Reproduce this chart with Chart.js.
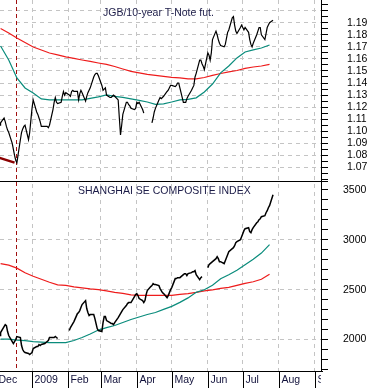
<!DOCTYPE html>
<html>
<head>
<meta charset="utf-8">
<script src="https://cdn.jsdelivr.net/npm/chart.js@4.4.1/dist/chart.umd.min.js"></script>
<style>
  html, body { margin: 0; padding: 0; background: #fff; }
  #wrap { width: 371px; height: 388px; position: relative; }
</style>
</head>
<body>
<div id="wrap"><canvas id="chart"></canvas></div>
<script>
// x values are days counted from Mon Dec 1, 2008
var firstDay = 3;    // Thu Dec 4, 2008
var lastDay = 238;   // Mon Jul 27, 2009
var monthStarts = [0, 31, 62, 90, 121, 151, 182, 212, 243, 274];
var monthLabels = ['Dec', '2009', 'Feb', 'Mar', 'Apr', 'May', 'Jun', 'Jul', 'Aug', 'Sep'];
var markerDay = 17;  // red dashed line, mid Dec

var jgbTitle = 'JGB/10-year T-Note fut.';
var shTitle = 'SHANGHAI SE COMPOSITE INDEX';
var jgbTickLabels = ['1.07', '1.08', '1.09', '1.10', '1.11', '1.12', '1.13', '1.14', '1.15', '1.16', '1.17', '1.18', '1.19'];
var shTickLabels = ['2000', '2500', '3000', '3500'];

// daily closes, one per weekday (null = no trade)
var jgbRatio = [
  1.105, 1.107,
  1.111, 1.108, 1.104, 1.101, 1.099,
  1.090, 1.085, 1.080, 1.076, 1.074,
  1.093, 1.099, 1.102, 1.104, 1.105,
  1.093, 1.099, 1.109, 1.119, 1.126,
  1.116, 1.114, 1.111, 1.108, 1.104,
  1.104, 1.104, 1.104, 1.103, 1.105,
  1.118, 1.124, 1.128, 1.124, 1.123,
  1.124, 1.129, 1.133, 1.130, 1.132,
  1.130, 1.129, 1.133, 1.134, 1.133,
  1.133, 1.126, 1.131, 1.134, 1.132,
  1.125, 1.129, 1.132, 1.134, 1.136,
  1.145, 1.147, 1.148, 1.148, 1.146,
  1.138, 1.134, 1.135, 1.136, 1.130,
  1.128, 1.128, 1.129, 1.130, 1.129,
  1.126, 1.111, 1.097, 1.105, 1.114,
  1.124, 1.124, 1.122, 1.121, 1.119,
  1.118, 1.119, 1.124, 1.123, 1.124,
  1.118, 1.115, null, 1.115, null,
  null, 1.107, 1.111, 1.116, 1.119,
  1.126, 1.128, 1.127, 1.128, 1.129,
  1.133, 1.134, 1.136, 1.138, 1.138,
  1.137, 1.138, 1.140, 1.140, 1.136,
  1.124, 1.124, 1.124, 1.127, 1.129,
  1.134, 1.136, 1.138, 1.145, 1.148,
  1.159, 1.159, 1.156, 1.154, 1.151,
  1.165, 1.163, 1.159, 1.165, 1.176,
  1.183, 1.180, 1.176, 1.173, 1.171,
  1.170, 1.172, 1.177, 1.182, 1.184,
  1.194, 1.195, 1.188, 1.183, 1.181,
  1.186, 1.188, 1.186, 1.184, 1.186,
  1.182, 1.176, 1.172, 1.170, 1.173,
  1.180, 1.183, 1.186, 1.186, 1.180,
  1.176, 1.181, 1.186, 1.188, 1.190,
  1.192
];

var shComposite = [
  2040, 2070,
  2130, 2150, 2140, 2080, 2040,
  1980, 1960, 1980, 2000, 2030,
  2020, 1940, 1900, 1880, 1870,
  1860, 1850, 1860, 1870, 1910,
  1930, 1930, 1950, 1940, 1950,
  1960, 1970, 1980, 1990, 2020,
  2020, 2020, 2030, 2020, 2010,
  null, null, null, null, null,
  2090, 2120, 2140, 2160, 2180,
  2260, 2270, 2290, 2320, 2350,
  2390, 2310, 2270, 2240, 2250,
  2250, 2210, 2160, 2110, 2090,
  2080, 2170, 2230, 2230, 2190,
  2170, 2160, 2160, 2150, 2170,
  2220, 2240, 2260, 2280, 2300,
  2340, 2360, 2370, 2370, 2370,
  2430, 2450, 2460, 2440, 2410,
  2390, 2370, 2390, 2450, 2490,
  2530, 2540, 2560, 2550, 2550,
  2540, 2510, 2490, 2470, 2460,
  2420, 2440, 2470, 2500, 2520,
  2610, 2610, 2620, 2620, 2620,
  2650, 2660, 2660, 2640, 2660,
  2670, 2680, 2680, 2690, 2650,
  2600, 2620, 2630, null, null,
  2720, 2750, 2760, 2770, 2780,
  2810, 2830, 2810, 2780, 2780,
  2760, 2790, 2820, 2850, 2880,
  2910, 2920, 2940, 2970, 2980,
  3000, 3030, 3060, 3090, 3110,
  3120, 3080, 3070, 3100, 3120,
  3170, 3180, 3200, 3210, 3230,
  3240, 3270, 3290, 3320, 3340,
  3450
];

// moving averages, read weekly (Fridays)
var maDays = [4, 11, 18, 25, 32, 39, 46, 53, 60, 67, 74, 81, 88, 95, 102, 109, 116,
  123, 130, 137, 144, 151, 158, 165, 172, 179, 186, 193, 200, 207, 214, 221, 228, 235];
var jgbMaShort = [1.1707, 1.1591, 1.1442, 1.1359, 1.1318, 1.1268, 1.1260, 1.1260, 1.1260,
  1.1260, 1.1260, 1.1272, 1.1285, 1.1301, 1.1289, 1.1281, 1.1268, 1.1256, 1.1243, 1.1223,
  1.1227, 1.1243, 1.1260, 1.1264, 1.1277, 1.1326, 1.1392, 1.1484, 1.1541, 1.1608, 1.1657,
  1.1674, 1.1690, 1.1715];
var jgbMaLong = [1.1852, 1.1815, 1.1773, 1.1736, 1.1699, 1.1674, 1.1649, 1.1633, 1.1616,
  1.1604, 1.1591, 1.1579, 1.1566, 1.1554, 1.1537, 1.1516, 1.1496, 1.1484, 1.1471, 1.1463,
  1.1455, 1.1446, 1.1442, 1.1434, 1.1434, 1.1446, 1.1463, 1.1479, 1.1492, 1.1504, 1.1521,
  1.1533, 1.1541, 1.1554];
var shMaShort = [2005, 2005, 1995, 1990, 1979, 1974, 1969, 1969, 1969, 1990, 2020, 2055,
  2095, 2120, 2141, 2171, 2201, 2226, 2251, 2271, 2302, 2332, 2372, 2417, 2473, 2498, 2543,
  2609, 2649, 2694, 2750, 2805, 2866, 2951];
var shMaLong = [2760, 2745, 2715, 2669, 2634, 2604, 2574, 2548, 2543, 2528, 2518, 2508,
  2500, 2488, 2473, 2463, 2448, 2443, 2443, 2443, 2443, 2443, 2453, 2460, 2473, 2488, 2498,
  2513, 2523, 2543, 2563, 2579, 2604, 2654];

// short dark red stub at the Dec low
var stubDays = [3, 16];
var stubVals = [1.078, 1.074];

// weekday list for the daily series
var tradeDays = [];
for (var d = firstDay; d <= lastDay; d++) {
  if (d % 7 < 5) tradeDays.push(d);
}

function pts(days, vals) {
  return vals.map(function (v, i) { return { x: days[i], y: v }; });
}

var FONT = 'Liberation Sans, Arial, sans-serif';
Chart.defaults.font.family = FONT;
Chart.defaults.font.size = 10.5;
Chart.defaults.color = '#000';

var GRID = '#c4c4c4';
var TEAL = '#0a8c7c';
var RED = '#ee1c1c';

function lineSet(data, axis, color, width) {
  return {
    data: data, yAxisID: axis, borderColor: color, borderWidth: width,
    pointRadius: 0, tension: 0, spanGaps: false, fill: false
  };
}

var decor = {
  id: 'decor',
  beforeDatasetsDraw: function (chart) {
    var ctx = chart.ctx, a = chart.chartArea;
    var x = chart.scales.x.getPixelForValue(markerDay);
    ctx.save();
    ctx.strokeStyle = '#a01010';
    ctx.lineWidth = 1;
    ctx.setLineDash([4, 3]);
    ctx.beginPath();
    ctx.moveTo(Math.round(x) + 0.5, a.top);
    ctx.lineTo(Math.round(x) + 0.5, a.bottom);
    ctx.stroke();
    ctx.restore();
  },
  afterDraw: function (chart) {
    var ctx = chart.ctx, a = chart.chartArea;
    var sx = chart.scales.x, top = chart.scales.yTop;
    ctx.save();
    // panel separator and bottom line
    ctx.strokeStyle = '#000';
    ctx.lineWidth = 1;
    var sep = Math.round(top.bottom) + 0.5;
    ctx.beginPath();
    ctx.moveTo(a.left, sep);
    ctx.lineTo(a.right + 7, sep);
    var bot = Math.round(a.bottom) + 0.5;
    ctx.moveTo(a.left, bot);
    ctx.lineTo(a.right + 2, bot);
    ctx.stroke();

    // panel titles
    ctx.fillStyle = '#1c1c48';
    ctx.font = '10.5px ' + FONT;
    ctx.textBaseline = 'alphabetic';
    ctx.fillText(jgbTitle, 103, 16);
    ctx.fillText(shTitle, 78, sep + 12);

    // month row
    ctx.beginPath();
    ctx.rect(0, a.bottom, a.right, chart.height - a.bottom);
    ctx.clip();
    ctx.textBaseline = 'middle';
    ctx.fillStyle = '#10103a';
    var rowMid = (a.bottom + chart.height) / 2 + 1;
    ctx.beginPath();
    for (var i = 0; i < monthStarts.length; i++) {
      var px = Math.round(sx.getPixelForValue(monthStarts[i])) + 0.5;
      ctx.moveTo(px, a.bottom);
      ctx.lineTo(px, chart.height);
      ctx.fillText(monthLabels[i], px + 2, rowMid);
    }
    ctx.stroke();
    ctx.restore();
  }
};

function yAxis(min, max, step, weight, pad, isLabel, isGrid) {
  return {
    type: 'linear', position: 'right', stack: 'panels', stackWeight: weight,
    min: min, max: max,
    afterBuildTicks: function (s) {
      var t = [];
      var v0 = Math.ceil(min / step);
      for (var k = v0; k * step <= max; k++) t.push({ value: k * step });
      s.ticks = t;
    },
    afterFit: function (s) {
      s.width = 50;
      s.paddingTop = 0;
      s.paddingBottom = 0;
    },
    ticks: {
      padding: pad, autoSkip: false,
      callback: function (v) { return isLabel(v); }
    },
    grid: {
      color: function (c) { return c.tick && isGrid(c.tick.value) ? GRID : 'rgba(0,0,0,0)'; },
      tickLength: 7, tickColor: '#000', tickBorderDash: []
    },
    border: { color: '#000', width: 1, dash: [4, 4] }
  };
}

var chart = new Chart(document.getElementById('chart'), {
  type: 'line',
  data: {
    datasets: [
      lineSet(pts(tradeDays, jgbRatio), 'yTop', '#000', 1.2),
      lineSet(pts(tradeDays, shComposite), 'yBot', '#000', 1.5),
      lineSet(pts(stubDays, stubVals), 'yTop', '#8b0000', 2.5),
      lineSet(pts(maDays, jgbMaShort), 'yTop', TEAL, 1.2),
      lineSet(pts(maDays, jgbMaLong), 'yTop', RED, 1.2),
      lineSet(pts(maDays, shMaShort), 'yBot', TEAL, 1.2),
      lineSet(pts(maDays, shMaLong), 'yBot', RED, 1.2)
    ]
  },
  options: {
    responsive: true,
    maintainAspectRatio: false,
    animation: false,
    layout: { padding: { left: 0, right: 0, top: 0, bottom: 17 } },
    plugins: { legend: { display: false }, tooltip: { enabled: false } },
    scales: {
      x: {
        type: 'linear', min: 3.5, max: 279.2,
        afterBuildTicks: function (s) {
          s.ticks = monthStarts.filter(function (m) { return m > 3.5 && m < 279; })
            .map(function (m) { return { value: m }; });
        },
        ticks: { display: false },
        grid: { color: GRID, drawTicks: false },
        border: { display: false, dash: [4, 4] }
      },
      yTop: yAxis(1.0590, 1.2088, 0.005, 181, 19,
        function (v) {
          var r = Math.round(v * 1000);
          var lab = (r / 1000).toFixed(2);
          return r % 10 === 0 && jgbTickLabels.indexOf(lab) >= 0 ? lab : '';
        },
        function (v) { var r = Math.round(v * 1000); return r % 10 === 0 && r >= 1070 && r <= 1200; }),
      yBot: yAxis(1685, 3590, 100, 190.5, 15,
        function (v) {
          var lab = String(Math.round(v));
          return shTickLabels.indexOf(lab) >= 0 ? lab : '';
        },
        function (v) { var r = Math.round(v); return r % 500 === 0 && r < 3500; })
    }
  },
  plugins: [decor]
});
</script>
</body>
</html>
